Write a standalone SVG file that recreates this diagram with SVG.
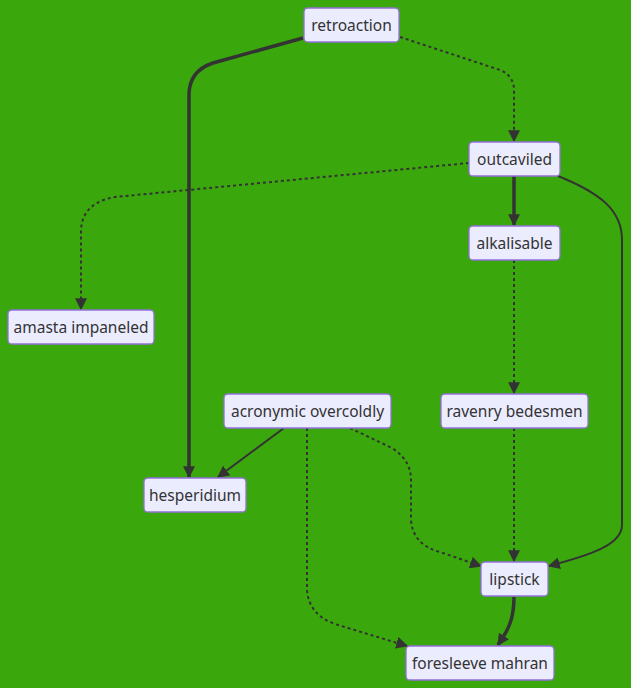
<svg xmlns="http://www.w3.org/2000/svg" width="631" height="688" viewBox="0 0 631 688">
<defs>
<style>
.node rect{fill:#ECECFF;stroke:#9370DB;stroke-width:1.3}
.node text{font-family:"Noto Sans","Open Sans",sans-serif;font-size:15.5px;fill:#333;text-anchor:middle}
.e{fill:none;stroke:#333;stroke-width:2}
.thick{stroke-width:3.5}
.dot{stroke-dasharray:3 3}
</style>
<marker id="ah" viewBox="0 0 10 10" refX="9" refY="5" markerUnits="userSpaceOnUse" markerWidth="12" markerHeight="12" orient="auto">
<path d="M0,0 L10,5 L0,10 z" fill="#333"/>
</marker>
</defs>
<rect width="631" height="688" fill="#3aa80c"/>
<g id="edges">
<path class="e thick" d="M303,38 L213,63 Q189,71 189,95 L189,477" marker-end="url(#ah)"/>
<path class="e dot" d="M400,37 L500,70 Q514,76 514,90 L514,141" marker-end="url(#ah)"/>
<path class="e dot" d="M469,163 L115,197 Q81,203 81,232 L81,309" marker-end="url(#ah)"/>
<path class="e thick" d="M514,176 L514,225" marker-end="url(#ah)"/>
<path class="e" d="M558,176 C600,193 622,210 622,240 L622,525 C622,545 590,555 549,566" marker-end="url(#ah)"/>
<path class="e dot" d="M514,260 L514,393" marker-end="url(#ah)"/>
<path class="e" d="M284,428 L218,477" marker-end="url(#ah)"/>
<path class="e dot" d="M307,428 L307,590 Q309,615 335,624 L407,646" marker-end="url(#ah)"/>
<path class="e dot" d="M350,428 L392,448 Q411,460 411,480 L411,520 Q413,545 440,552 L481,566" marker-end="url(#ah)"/>
<path class="e dot" d="M514,428 L514,561" marker-end="url(#ah)"/>
<path class="e thick" d="M514,597 C514,620 508,630 498,645" marker-end="url(#ah)"/>
</g>
<g id="retroaction" class="node"><rect x="304" y="8" width="95" height="34" rx="4"/><text x="351.5" y="30.5">retroaction</text></g>
<g id="outcaviled" class="node"><rect x="469" y="142" width="91" height="34" rx="4"/><text x="514.5" y="164.5">outcaviled</text></g>
<g id="alkalisable" class="node"><rect x="469" y="226" width="91" height="34" rx="4"/><text x="514.5" y="248.5">alkalisable</text></g>
<g id="amasta" class="node"><rect x="8" y="310" width="146" height="34" rx="4"/><text x="81" y="332.5">amasta impaneled</text></g>
<g id="acronymic" class="node"><rect x="224" y="394" width="167" height="34" rx="4"/><text x="307.5" y="416.5">acronymic overcoldly</text></g>
<g id="ravenry" class="node"><rect x="441" y="394" width="147" height="34" rx="4"/><text x="514.5" y="416.5">ravenry bedesmen</text></g>
<g id="hesperidium" class="node"><rect x="144" y="478" width="102" height="34" rx="4"/><text x="195" y="500.5">hesperidium</text></g>
<g id="lipstick" class="node"><rect x="481" y="562" width="67" height="34" rx="4"/><text x="514.5" y="584.5">lipstick</text></g>
<g id="foresleeve" class="node"><rect x="406" y="646" width="148" height="34" rx="4"/><text x="480" y="668.5">foresleeve mahran</text></g>
</svg>
